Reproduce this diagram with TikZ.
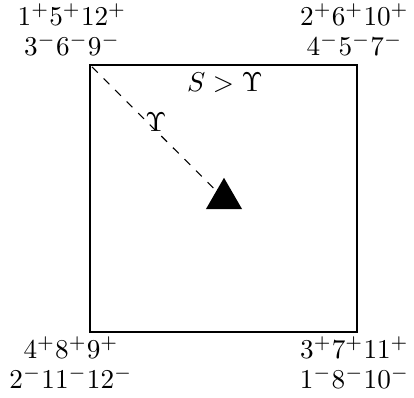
\documentclass[tikz,border=0pt]{standalone}
\usetikzlibrary{shapes.geometric}
\begin{document}
\begin{tikzpicture}[x=0.3676pt,y=-0.3676pt,
  corner/.style={align=center,anchor=base,inner sep=0pt},
  box/.style={draw,line width=0.75pt,minimum width=98.1pt,minimum height=98pt,inner sep=0pt,outer sep=0pt},
  tri/.style={regular polygon,regular polygon sides=3,fill=black,minimum size=15.3pt,inner sep=0pt,outer sep=0pt},
  guide/.style={dashed,line width=0.4pt}]
\useasboundingbox (0,0) rectangle (414,398);
\node[box] (sq) at (223.5,198.3) {};
\node[tri] (t) at (224,198.6) {};
\draw[guide,shorten <=1pt,shorten >=2pt] (sq.north west) -- (t.center);
\node[anchor=base,inner sep=0pt] (ups) at (156,131) {$\Upsilon$};
\node[anchor=base,inner sep=0pt] (lab) at (225,91.5) {$S>\Upsilon$};
\node[corner] (tl) at (72,55) {$1^+5^+12^+$\\[-1pt]$3^-6^-9^-$};
\node[corner] (tr) at (354.5,55) {$2^+6^+10^+$\\[-1pt]$4^-5^-7^-$};
\node[corner] (bl) at (71,388) {$4^+8^+9^+$\\[-1pt]$2^-11^-12^-$};
\node[corner] (br) at (354.5,388) {$3^+7^+11^+$\\[-1pt]$1^-8^-10^-$};
\end{tikzpicture}
\end{document}
